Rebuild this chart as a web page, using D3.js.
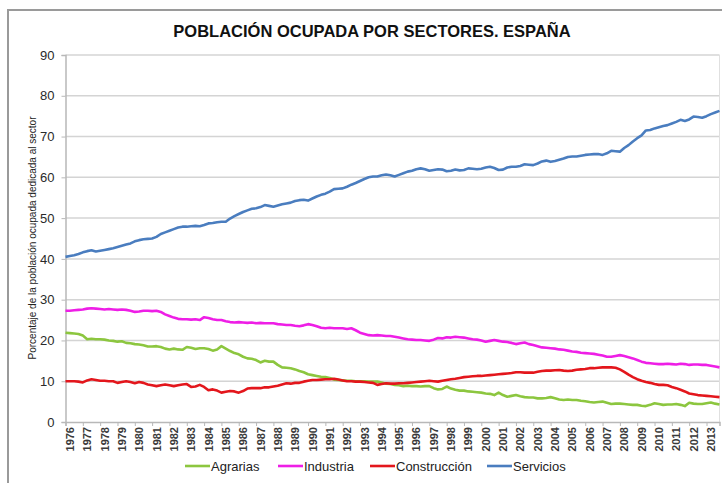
<!DOCTYPE html>
<html>
<head>
<meta charset="utf-8">
<script src="https://cdn.jsdelivr.net/npm/d3@7/dist/d3.min.js"></script>
<style>
  html, body { margin: 0; padding: 0; background: #fff; }
  svg { display: block; font-family: "Liberation Sans", Arial, sans-serif; }
</style>
</head>
<body>
<svg id="chart" width="722" height="483"></svg>
<script>
// Quarterly share of employed population by sector, Spain, 1976 Q1 – 2013 Q4 (%)
const startYear = 1976;
const yearLabels = d3.range(1976, 2014).map(String);

const agrarias = [
  21.9, 21.8, 21.7, 21.6,  21.2, 20.3, 20.4, 20.3,  20.3, 20.2, 20.0, 19.9,  19.7, 19.8, 19.4, 19.3,
  19.1, 19.0, 18.8, 18.5,  18.5, 18.6, 18.4, 18.0,  17.8, 18.0, 17.8, 17.7,  18.4, 18.2, 17.9, 18.1,
  18.1, 17.9, 17.5, 17.8,  18.6, 18.0, 17.4, 16.9,  16.6, 16.0, 15.6, 15.5,  15.2, 14.6, 15.0, 14.8,
  14.8, 14.0, 13.4, 13.3,  13.2, 12.9, 12.5, 12.2,  11.7, 11.5, 11.3, 11.1,  11.0, 10.8, 10.4, 10.3,
  10.2, 10.1, 10.1, 10.0,  10.0, 10.0,  9.9,  9.9,   9.9,  9.7,  9.4,  9.3,   9.1,  9.0,  8.8,  8.9,
   8.8,  8.8,  8.7,  8.8,   8.8,  8.3,  8.0,  8.1,   8.7,  8.2,  7.9,  7.7,   7.7,  7.5,  7.4,  7.3,
   7.2,  7.0,  6.9,  6.6,   7.2,  6.6,  6.2,  6.4,   6.6,  6.3,  6.1,  6.0,   6.0,  5.8,  5.8,  5.9,
   6.1,  5.8,  5.5,  5.4,   5.5,  5.4,  5.4,  5.2,   5.1,  4.9,  4.8,  4.9,   5.0,  4.7,  4.4,  4.5,
   4.5,  4.4,  4.3,  4.2,   4.2,  4.0,  3.9,  4.2,   4.6,  4.4,  4.2,  4.3,   4.3,  4.4,  4.2,  3.9,
   4.7,  4.5,  4.4,  4.4,   4.6,  4.8,  4.5,  4.3
];

const industria = [
  27.3, 27.3, 27.4, 27.5,  27.6, 27.8, 27.9, 27.8,  27.7, 27.6, 27.7, 27.6,  27.5, 27.6, 27.5, 27.3,
  27.0, 27.1, 27.3, 27.3,  27.2, 27.3, 27.0, 26.4,  26.0, 25.6, 25.3, 25.2,  25.2, 25.1, 25.2, 25.0,
  25.7, 25.5, 25.2, 25.0,  25.0, 24.7, 24.5, 24.4,  24.5, 24.4, 24.3, 24.4,  24.2, 24.3, 24.2, 24.2,
  24.2, 24.0, 23.9, 23.8,  23.8, 23.6, 23.5, 23.7,  24.0, 23.8, 23.5, 23.1,  23.0, 23.1, 23.0, 23.0,
  23.0, 22.8, 23.0, 22.5,  21.9, 21.6, 21.3, 21.2,  21.3, 21.2, 21.1, 21.1,  20.9, 20.7, 20.5, 20.3,
  20.2, 20.1, 20.1, 20.0,  19.9, 20.2, 20.6, 20.5,  20.8, 20.7, 20.9, 20.8,  20.7, 20.5, 20.3, 20.2,
  20.0, 19.7, 19.9, 20.1,  19.9, 19.7, 19.6, 19.4,  19.1, 19.3, 19.5, 19.1,  18.9, 18.6, 18.3, 18.2,
  18.1, 18.0, 17.8, 17.7,  17.5, 17.3, 17.2, 17.0,  16.9, 16.8, 16.7, 16.5,  16.3, 16.0, 16.0, 16.2,
  16.4, 16.2, 15.9, 15.6,  15.2, 14.8, 14.5, 14.4,  14.3, 14.2, 14.2, 14.3,  14.2, 14.1, 14.3, 14.2,
  14.0, 14.1, 14.1, 14.0,  14.0, 13.8, 13.6, 13.4
];

const construccion = [
  10.0, 10.0, 10.0,  9.9,   9.7, 10.2, 10.5, 10.3,  10.1, 10.1, 10.0, 10.0,   9.6,  9.8, 10.0,  9.8,
   9.5,  9.8,  9.6,  9.2,   9.0,  8.8,  9.0,  9.2,   9.0,  8.8,  9.0,  9.2,   9.3,  8.6,  8.7,  9.1,
   8.6,  7.8,  8.0,  7.7,   7.2,  7.4,  7.6,  7.5,   7.2,  7.6,  8.2,  8.3,   8.3,  8.3,  8.5,  8.5,
   8.7,  8.9,  9.2,  9.5,   9.4,  9.6,  9.6,  9.9,  10.1, 10.3, 10.3, 10.4,  10.5, 10.5, 10.6, 10.4,
  10.2, 10.0, 10.0,  9.9,   9.9,  9.8,  9.7,  9.6,   9.1,  9.3,  9.5,  9.4,   9.4,  9.5,  9.5,  9.6,
   9.7,  9.8,  9.9, 10.0,  10.1, 10.0,  9.9, 10.1,  10.3, 10.5, 10.6, 10.8,  11.0, 11.1, 11.2, 11.3,
  11.3, 11.4, 11.5, 11.6,  11.7, 11.8, 11.9, 12.0,  12.2, 12.2, 12.1, 12.1,  12.1, 12.3, 12.5, 12.6,
  12.6, 12.7, 12.75, 12.6, 12.5, 12.6, 12.8, 12.9,  13.0, 13.2, 13.2, 13.3,  13.4, 13.4, 13.4, 13.3,
  12.9, 12.3, 11.6, 11.0,  10.5, 10.1,  9.8,  9.6,   9.3,  9.1,  9.1,  9.0,   8.6,  8.3,  7.9,  7.5,
   7.0,  6.8,  6.6,  6.5,   6.4,  6.3,  6.2,  6.1
];

const servicios = [
  40.5, 40.7, 40.9, 41.2,  41.6, 41.9, 42.1, 41.8,  42.0, 42.2, 42.4, 42.6,  42.9, 43.2, 43.5, 43.8,
  44.3, 44.6, 44.8, 44.9,  45.0, 45.4, 46.1, 46.5,  46.9, 47.3, 47.7, 47.9,  47.9, 48.0, 48.1, 48.0,
  48.3, 48.7, 48.8, 49.0,  49.1, 49.1, 49.9, 50.5,  51.0, 51.5, 51.9, 52.3,  52.4, 52.7, 53.2, 53.0,
  52.8, 53.1, 53.4, 53.6,  53.8, 54.2, 54.4, 54.5,  54.3, 54.8, 55.3, 55.7,  56.0, 56.5, 57.1, 57.2,
  57.3, 57.7, 58.2, 58.6,  59.1, 59.6, 60.0, 60.2,  60.2, 60.5, 60.7, 60.5,  60.2, 60.6, 61.0, 61.4,
  61.6, 62.0, 62.2, 62.0,  61.6, 61.8, 62.0, 61.9,  61.5, 61.6, 61.9, 61.7,  61.8, 62.2, 62.1, 62.0,
  62.1, 62.4, 62.6, 62.3,  61.8, 61.9, 62.4, 62.6,  62.6, 62.8, 63.2, 63.1,  63.0, 63.4, 63.9, 64.1,
  63.8, 64.0, 64.3, 64.6,  65.0, 65.1, 65.1, 65.3,  65.5, 65.6, 65.7, 65.7,  65.5, 65.9, 66.5, 66.4,
  66.3, 67.2, 67.9, 68.8,  69.6, 70.3, 71.5, 71.6,  72.0, 72.3, 72.6, 72.8,  73.2, 73.6, 74.1, 73.8,
  74.2, 74.9, 74.8, 74.6,  75.0, 75.5, 75.9, 76.3
];

const seriesNames  = ["Agrarias", "Industria", "Construcción", "Servicios"];
const seriesValues = [agrarias, industria, construccion, servicios];
const seriesColors = ["#8cc63f", "#ee1ee6", "#e3161c", "#4a7dbf"];
const yTicks = d3.range(0, 91, 10);

const svg = d3.select("#chart");

// Outer chart frame
svg.append("rect")
  .attr("x", 8).attr("y", 10)
  .attr("width", 740).attr("height", 500)
  .attr("fill", "#fff")
  .attr("stroke", "#9a9a9a")
  .attr("stroke-width", 2);

const x = d3.scaleLinear().domain([startYear, 2013.75]).range([65.5, 719.5]);
const y = d3.scaleLinear().domain([0, 90]).range([422, 55]);

// Horizontal gridlines
svg.append("g")
  .selectAll("line")
  .data(yTicks.filter(d => d > 0))
  .join("line")
  .attr("x1", x.range()[0]).attr("x2", x.range()[1])
  .attr("y1", d => y(d)).attr("y2", d => y(d))
  .attr("stroke", "#d4d4d4")
  .attr("stroke-width", 1.5);

// Right edge of plot area
svg.append("line")
  .attr("x1", x.range()[1]).attr("x2", x.range()[1])
  .attr("y1", y(90)).attr("y2", y(0))
  .attr("stroke", "#e0e0e0")
  .attr("stroke-width", 1);

// Y axis
const yAxis = svg.append("g")
  .attr("transform", `translate(${x.range()[0]},0)`)
  .call(d3.axisLeft(y).tickValues(yTicks).tickSize(4).tickPadding(7));
yAxis.select(".domain").attr("stroke", "#b8b8b8").attr("stroke-width", 1.5);
yAxis.selectAll(".tick line").attr("stroke", "#b8b8b8");
yAxis.selectAll(".tick text")
  .attr("font-size", 13)
  .attr("font-family", "Liberation Sans, Arial, sans-serif")
  .attr("fill", "#2a2a2a");

// X axis: one tick per year
const xAxis = svg.append("g")
  .attr("transform", `translate(0,${y(0)})`)
  .call(d3.axisBottom(x)
    .tickValues(yearLabels.map(Number))
    .tickFormat(d => String(d))
    .tickSize(4));
xAxis.select(".domain").attr("stroke", "#b8b8b8").attr("stroke-width", 1.5);
xAxis.selectAll(".tick line").attr("stroke", "#b8b8b8");
xAxis.selectAll(".tick text")
  .attr("font-size", 11)
  .attr("font-weight", "bold")
  .attr("font-family", "Liberation Sans, Arial, sans-serif")
  .attr("fill", "#3a3a3a")
  .attr("text-anchor", "end")
  .attr("dy", null)
  .attr("y", 0)
  .attr("transform", "translate(8,5) rotate(-90)");

// Series lines
const line = d3.line()
  .x((d, i) => x(startYear + i / 4))
  .y(d => y(d));

svg.append("g")
  .selectAll("path")
  .data(seriesValues)
  .join("path")
  .attr("d", d => line(d))
  .attr("fill", "none")
  .attr("stroke", (d, i) => seriesColors[i])
  .attr("stroke-width", 2.6)
  .attr("stroke-linejoin", "round");

// Title
svg.append("text")
  .attr("x", 372).attr("y", 37)
  .attr("text-anchor", "middle")
  .attr("font-size", 16.5)
  .attr("font-weight", "bold")
  .attr("fill", "#111")
  .text("POBLACIÓN OCUPADA POR SECTORES. ESPAÑA");

// Y axis title
svg.append("text")
  .attr("transform", "translate(36,238) rotate(-90)")
  .attr("text-anchor", "middle")
  .attr("font-size", 10)
  .attr("fill", "#222")
  .text("Porcentaje de la población ocupada dedicada al sector");

// Legend
const legendX = [185, 278, 370, 487];
const legend = svg.append("g");
seriesNames.forEach((name, i) => {
  const g = legend.append("g").attr("transform", `translate(${legendX[i]},466)`);
  g.append("line")
    .attr("x1", 0).attr("x2", 25)
    .attr("y1", 0).attr("y2", 0)
    .attr("stroke", seriesColors[i])
    .attr("stroke-width", 2.6);
  g.append("text")
    .attr("x", 26).attr("y", 0)
    .attr("dy", "0.35em")
    .attr("font-size", 13)
    .attr("fill", "#222")
    .text(name);
});
</script>
</body>
</html>
